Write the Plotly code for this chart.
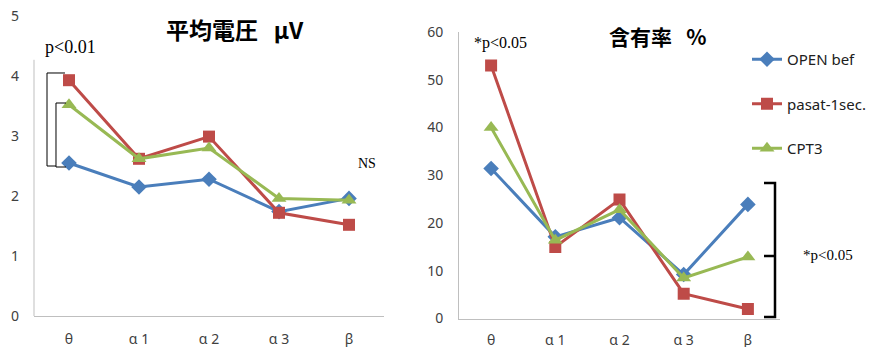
import plotly.graph_objects as go

categories = ["θ", "α 1", "α 2", "α 3", "β"]
series_names = ["OPEN bef", "pasat-1sec.", "CPT3"]

voltage_open = [2.55, 2.15, 2.28, 1.74, 1.96]
voltage_pasat = [3.93, 2.62, 2.99, 1.72, 1.52]
voltage_cpt3 = [3.52, 2.62, 2.80, 1.96, 1.93]

ratio_open = [31.4, 17.1, 21.1, 9.2, 23.9]
ratio_pasat = [53.0, 15.0, 24.9, 5.2, 2.0]
ratio_cpt3 = [40.0, 16.4, 22.8, 8.5, 12.9]

colors = ["#4a7ebb", "#be4b48", "#98b954"]
symbols = ["diamond", "square", "triangle-up"]
msizes = [12, 12, 13]

W, H = 872, 347
fig = go.Figure()

left = [voltage_open, voltage_pasat, voltage_cpt3]
right = [ratio_open, ratio_pasat, ratio_cpt3]
for i in range(3):
    fig.add_trace(go.Scatter(
        x=categories, y=left[i], mode="lines+markers", name=series_names[i],
        line=dict(color=colors[i], width=3),
        marker=dict(symbol=symbols[i], size=msizes[i], color=colors[i]),
        xaxis="x", yaxis="y", showlegend=False, legendgroup=str(i)))
for i in range(3):
    fig.add_trace(go.Scatter(
        x=categories, y=right[i], mode="lines+markers", name=series_names[i],
        line=dict(color=colors[i], width=3),
        marker=dict(symbol=symbols[i], size=msizes[i], color=colors[i]),
        xaxis="x2", yaxis="y2", showlegend=True, legendgroup=str(i)))

tickfont = dict(family="Noto Sans, Open Sans, sans-serif", size=14, color="#404040")
axcol = "#bfbfbf"

fig.update_layout(
    width=W, height=H,
    margin=dict(l=0, r=0, t=0, b=0, autoexpand=False),
    paper_bgcolor="white", plot_bgcolor="white",
    xaxis=dict(domain=[34 / W, 384 / W], anchor="y", showgrid=False, zeroline=False,
               showline=True, linecolor=axcol, linewidth=1, tickfont=tickfont, automargin=False,
               ticks="", ticklabelstandoff=10, range=[-0.5, 4.5], fixedrange=True),
    yaxis=dict(domain=[(H - 316) / H, (H - 16) / H], anchor="x", range=[0, 5], dtick=1,
               showgrid=False, zeroline=False, showline=False, tickfont=tickfont, automargin=False,
               ticks="", ticklabelstandoff=14),
    xaxis2=dict(domain=[459 / W, 780 / W], anchor="y2", showgrid=False, zeroline=False,
                showline=True, linecolor=axcol, linewidth=1, tickfont=tickfont, automargin=False,
                ticks="", ticklabelstandoff=9, range=[-0.5, 4.5]),
    yaxis2=dict(domain=[(H - 318.5) / H, (H - 32) / H], anchor="x2", range=[0, 60], dtick=10,
                showgrid=False, zeroline=False, showline=True, linecolor=axcol, linewidth=1,
                tickfont=tickfont, ticks="", ticklabelstandoff=12, automargin=False),
    legend=dict(x=747 / W, y=1 - 43 / H, xanchor="left", yanchor="top",
                font=dict(family="Noto Sans, Open Sans, sans-serif", size=15, color="#202020"),
                tracegroupgap=22, itemwidth=30, bgcolor="rgba(0,0,0,0)"),
)

# left y axis line (partial, as in reference)
fig.add_shape(type="line", xref="x domain", yref="y", x0=0, x1=0, y0=0, y1=4.27,
              line=dict(color=axcol, width=1))

# titles
fig.add_annotation(text="<b>平均電圧\u00a0\u00a0\u00a0μV</b>", x=235 / W, y=1 - 29 / H,
                   xref="paper", yref="paper", showarrow=False, xanchor="center", yanchor="middle",
                   font=dict(family="Noto Sans CJK JP", size=23, color="black"))
fig.add_annotation(text="<b>含有率\u00a0\u00a0\u00a0%</b>", x=658 / W, y=1 - 36 / H,
                   xref="paper", yref="paper", showarrow=False, xanchor="center", yanchor="middle",
                   font=dict(family="Noto Sans CJK JP", size=21, color="black"))

serif = "Liberation Serif, Times New Roman, serif"
fig.add_annotation(text="p<0.01", x=43 / W, y=1 - 47 / H, xref="paper", yref="paper",
                   showarrow=False, xanchor="left", yanchor="middle",
                   font=dict(family=serif, size=18, color="black"))
fig.add_annotation(text="NS", x=367 / W, y=1 - 163 / H, xref="paper", yref="paper",
                   showarrow=False, xanchor="center", yanchor="middle",
                   font=dict(family=serif, size=14, color="black"))
fig.add_annotation(text="*p<0.05", x=500 / W, y=1 - 43 / H, xref="paper", yref="paper",
                   showarrow=False, xanchor="center", yanchor="middle",
                   font=dict(family=serif, size=16, color="black"))
fig.add_annotation(text="*p<0.05", x=828 / W, y=1 - 255 / H, xref="paper", yref="paper",
                   showarrow=False, xanchor="center", yanchor="middle",
                   font=dict(family=serif, size=15, color="black"))

# brackets (pixel-based paths in paper coords)
def px(x, y):
    return f"{x / W:.5f},{1 - y / H:.5f}"

fig.add_shape(type="path", xref="paper", yref="paper",
              path=f"M{px(65,73)} L{px(47,73)} L{px(47,166)} L{px(56,166)}",
              line=dict(color="black", width=1))
fig.add_shape(type="path", xref="paper", yref="paper",
              path=f"M{px(66,103)} L{px(56,103)} L{px(56,167)} L{px(66,167)}",
              line=dict(color="black", width=1))
fig.add_shape(type="path", xref="paper", yref="paper",
              path=f"M{px(764,183)} L{px(775,183)} L{px(775,317)} L{px(764,317)} M{px(764,256)} L{px(775,256)}",
              line=dict(color="black", width=2.5))

fig.write_html("out.html", config={"displayModeBar": False},
               post_script="document.body.style.margin='0';document.body.style.overflow='hidden';")
